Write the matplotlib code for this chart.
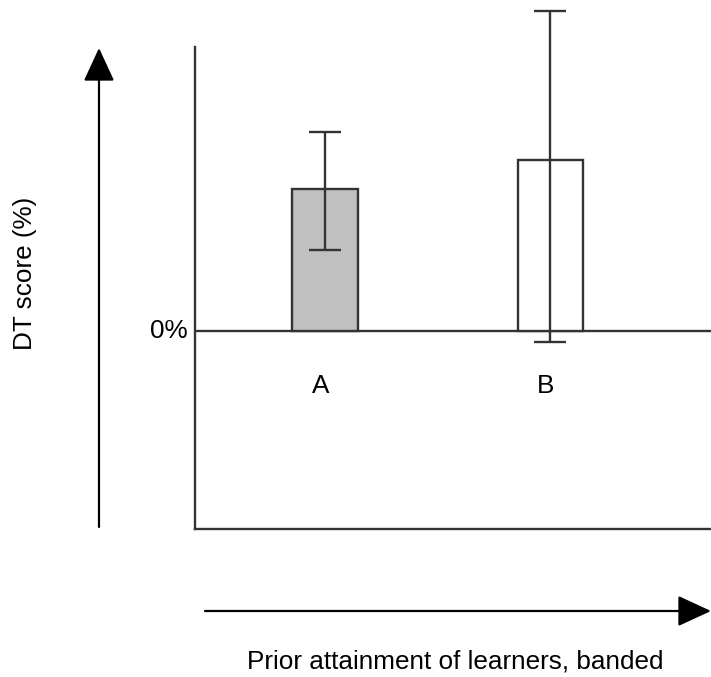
import matplotlib.pyplot as plt
from matplotlib.patches import FancyArrowPatch

plt.rcParams['font.family'] = ['Liberation Sans', 'DejaVu Sans']

# group scores (arbitrary units, 0 = the 0% line)
groups = ['A', 'B']
scores = [14.2, 17.1]
err_low = [6.1, 18.2]
err_high = [5.7, 14.9]
fills = ['#c0c0c0', 'white']

W, H = 711, 677
fig = plt.figure(figsize=(W / 100, H / 100), dpi=100)
ax = fig.add_axes([195 / W, (H - 529) / H, (W - 195) / W, (529 - 47) / H])

ink = '#333333'
xs = [1, 2]
ax.bar(xs, scores, width=0.29, color=fills, edgecolor=ink, linewidth=1.7, zorder=2)
ax.errorbar(xs, scores, yerr=[err_low, err_high], fmt='none', ecolor=ink,
            elinewidth=1.7, capsize=11.5, capthick=1.7, clip_on=False, zorder=3)
ax.axhline(0, color=ink, linewidth=1.7, zorder=1)

ax.set_xlim(0.4235, 2.712)
ax.set_ylim(-19.8, 28.4)
ax.spines[['top', 'right']].set_visible(False)
for s in ['left', 'bottom']:
    ax.spines[s].set_color(ink)
    ax.spines[s].set_linewidth(1.7)
ax.set_xticks([])
ax.set_yticks([])

fs = 18.8
ax.text(0.39, 0, '0%', fontsize=fs, ha='right', va='center')
for x, g in zip(xs, groups):
    ax.text(x - 0.02, -5.5, g, fontsize=fs, ha='center', va='center')

# free-standing axis arrows
def fig_xy(px, py):
    return px / W, 1 - py / H

for start, end in [((99, 527), (99, 48)), ((205, 611), (711, 611))]:
    fig.add_artist(FancyArrowPatch(fig_xy(*start), fig_xy(*end),
                                   transform=fig.transFigure,
                                   arrowstyle='-|>,head_length=1.3,head_width=0.6',
                                   mutation_scale=16, color='black',
                                   linewidth=1.6, shrinkA=0, shrinkB=0))

fig.text(25 / W, 1 - 273 / H, 'DT score (%)', fontsize=fs, rotation=90,
         ha='center', va='center')
fig.text(455 / W, 1 - 662 / H, 'Prior attainment of learners, banded',
         fontsize=fs, ha='center', va='center')

fig.savefig('out.png', dpi=100)
